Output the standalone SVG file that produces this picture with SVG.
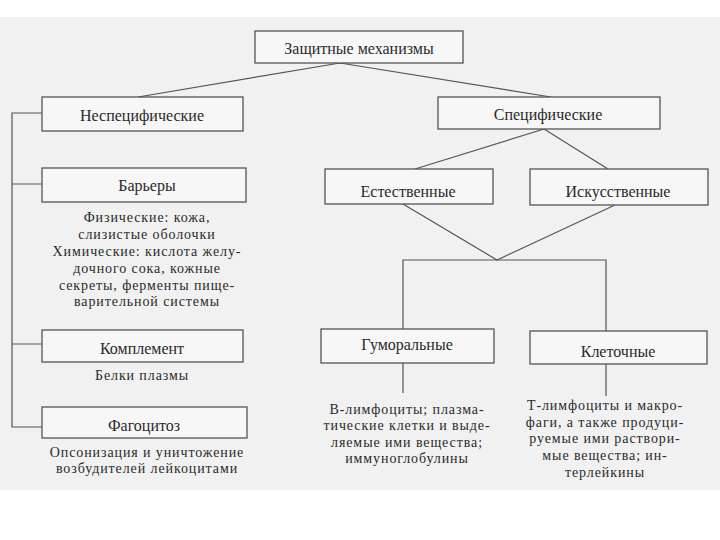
<svg xmlns="http://www.w3.org/2000/svg" width="720" height="540" viewBox="0 0 720 540">
<style>
.box{fill:#f7f7f7;stroke:#555;stroke-width:1.3}
.lbl{font-family:'Liberation Serif','Times New Roman','DejaVu Serif',serif;font-size:16px;fill:#2a2a2a;text-anchor:middle;dominant-baseline:central}
.txt{font-family:'Liberation Serif','Times New Roman','DejaVu Serif',serif;font-size:14px;letter-spacing:0.9px;fill:#2a2a2a;text-anchor:middle;dominant-baseline:central}
.ln{stroke:#555;stroke-width:1.2;fill:none}
</style>
<rect x="0" y="0" width="720" height="540" fill="#fff"/>
<rect x="0" y="17" width="720" height="473" fill="#f1f1f1"/>
<g id="connectors">
<path class="ln" d="M340,63 L138,97 M340,63 L551,97"/>
<path class="ln" d="M544,129 L415,169 M544,129 L608,169"/>
<path class="ln" d="M42,113 H12 V427 H42 M12,184 H42 M12,344 H42"/>
<path class="ln" d="M403,204 L497,260 L615,205"/>
<path class="ln" d="M403,329 V260 H606 V331"/>
<path class="ln" d="M403,363 V393 M606,364 V396"/>
</g>
<g id="root"><rect class="box" x="255" y="31" width="208" height="32"/><text class="lbl" x="359" y="48">Защитные механизмы</text></g>
<g id="nonspecific"><rect class="box" x="42" y="97" width="201" height="34"/><text class="lbl" x="142" y="115">Неспецифические</text></g>
<g id="specific"><rect class="box" x="438" y="97" width="222" height="32"/><text class="lbl" x="548" y="114">Специфические</text></g>
<g id="barriers"><rect class="box" x="42" y="168" width="204" height="34"/><text class="lbl" x="147" y="185">Барьеры</text>
<text class="txt" x="147"><tspan x="147" y="217">Физические: кожа,</tspan><tspan x="147" y="234">слизистые оболочки</tspan><tspan x="147" y="251">Химические: кислота желу-</tspan><tspan x="147" y="268">дочного сока, кожные</tspan><tspan x="147" y="285">секреты, ферменты пище-</tspan><tspan x="147" y="301">варительной системы</tspan></text></g>
<g id="complement"><rect class="box" x="42" y="330" width="201" height="32"/><text class="lbl" x="142" y="348">Комплемент</text>
<text class="txt" x="142" y="375">Белки плазмы</text></g>
<g id="phagocytosis"><rect class="box" x="42" y="407" width="205" height="31"/><text class="lbl" x="144" y="425">Фагоцитоз</text>
<text class="txt" x="147"><tspan x="147" y="452">Опсонизация и уничтожение</tspan><tspan x="147" y="468">возбудителей лейкоцитами</tspan></text></g>
<g id="natural"><rect class="box" x="325" y="169" width="168" height="35"/><text class="lbl" x="408" y="191">Естественные</text></g>
<g id="artificial"><rect class="box" x="530" y="169" width="178" height="36"/><text class="lbl" x="618" y="191">Искусственные</text></g>
<g id="humoral"><rect class="box" x="321" y="329" width="173" height="34"/><text class="lbl" x="407" y="344">Гуморальные</text>
<text class="txt" x="407"><tspan x="407" y="409">В-лимфоциты; плазма-</tspan><tspan x="407" y="425">тические клетки и выде-</tspan><tspan x="407" y="442">ляемые ими вещества;</tspan><tspan x="407" y="458">иммуноглобулины</tspan></text></g>
<g id="cellular"><rect class="box" x="530" y="331" width="177" height="33"/><text class="lbl" x="618" y="351">Клеточные</text>
<text class="txt" x="605"><tspan x="605" y="405">Т-лимфоциты и макро-</tspan><tspan x="605" y="422">фаги, а также продуци-</tspan><tspan x="605" y="438">руемые ими раствори-</tspan><tspan x="605" y="455">мые вещества; ин-</tspan><tspan x="605" y="472">терлейкины</tspan></text></g>
</svg>
